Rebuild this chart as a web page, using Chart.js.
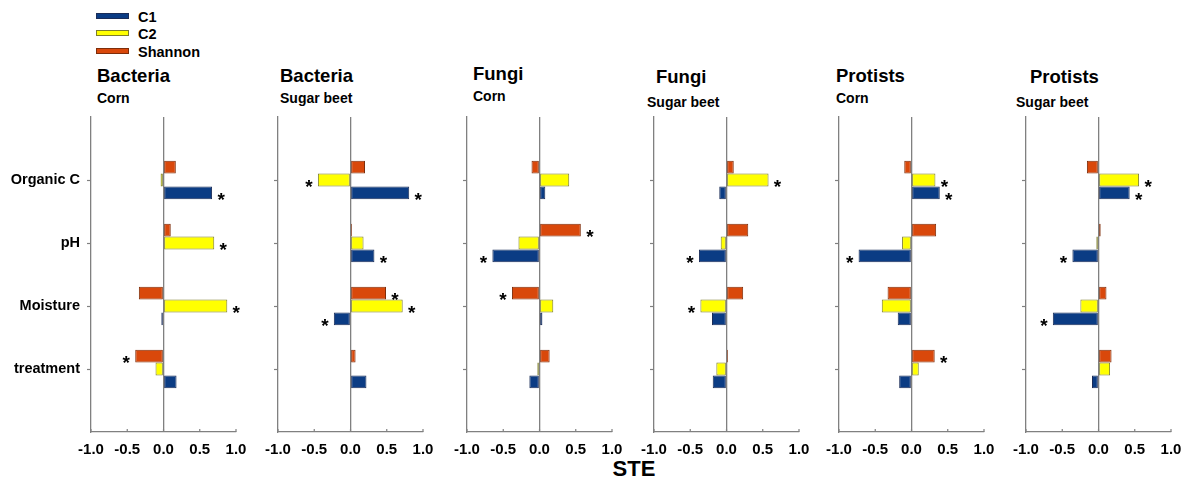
<!DOCTYPE html>
<html lang="en">
<head>
<meta charset="UTF-8">
<title>STE</title>
<style>
  body { margin: 0; background: #fff; }
  #page { position: relative; width: 1184px; height: 482px; overflow: hidden;
          font-family: "Liberation Sans", Arial, sans-serif; font-weight: bold; color: #000; }
  .txt { position: absolute; white-space: nowrap; line-height: 1; }
  .key { position: absolute; left: 96px; width: 31px; height: 4px; }
  canvas { position: absolute; }
</style>
<script src="https://cdn.jsdelivr.net/npm/chart.js"></script>
</head>
<body>
<div id="page"></div>

<script>
  // categories and tick labels
  const categories = ['Organic C', 'pH', 'Moisture', 'treatment'];
  const groups = ['Bacteria', 'Bacteria', 'Fungi', 'Fungi', 'Protists', 'Protists'];
  const crops = ['Corn', 'Sugar beet', 'Corn', 'Sugar beet', 'Corn', 'Sugar beet'];
  const seriesNames = ['C1', 'C2', 'Shannon'];
  const xTicks = [-1.0, -0.5, 0.0, 0.5, 1.0];
  const axisTitle = 'STE';

  // values per panel (Organic C, pH, Moisture, treatment)
  const c1 = [
    [0.67, -0.01, -0.03, 0.18],
    [0.81, 0.33, -0.23, 0.22],
    [0.08, -0.65, 0.04, -0.14],
    [-0.10, -0.38, -0.20, -0.19],
    [0.39, -0.73, -0.19, -0.17],
    [0.43, -0.36, -0.63, -0.09]
  ];
  const c2 = [
    [-0.04, 0.70, 0.88, -0.11],
    [-0.45, 0.18, 0.72, 0.01],
    [0.41, -0.29, 0.19, -0.03],
    [0.58, -0.08, -0.36, -0.14],
    [0.33, -0.13, -0.41, 0.10],
    [0.56, -0.03, -0.25, 0.16]
  ];
  const shannon = [
    [0.17, 0.10, -0.34, -0.39],
    [0.20, 0.02, 0.49, 0.07],
    [-0.11, 0.57, -0.38, 0.14],
    [0.10, 0.30, 0.23, 0.02],
    [-0.10, 0.34, -0.33, 0.32],
    [-0.16, 0.03, 0.11, 0.18]
  ];

  // significance marks (*)
  const c1Star = [
    [1, 0, 0, 0], [1, 1, 1, 0], [0, 1, 0, 0], [0, 1, 0, 0], [1, 1, 0, 0], [1, 1, 1, 0]
  ];
  const c2Star = [
    [0, 1, 1, 0], [1, 0, 1, 0], [0, 0, 0, 0], [1, 0, 1, 0], [1, 0, 0, 0], [1, 0, 0, 0]
  ];
  const shannonStar = [
    [0, 0, 0, 1], [0, 0, 1, 0], [0, 1, 1, 0], [0, 0, 0, 0], [0, 0, 0, 1], [0, 0, 0, 0]
  ];

  // look
  const fill = { C1: '#0b3c84', C2: '#ffff00', Shannon: '#d9480b' };
  const edge = { C1: '#1b2d58', C2: '#7d7d2c', Shannon: '#7e2d0a' };
  const gray = '#808080';
  const clear = 'rgba(0,0,0,0)';
  const fontFam = '"Liberation Sans", Arial, sans-serif';

  // layout: left edge of each panel's plot area, title baselines
  const axisLeft = [91, 277.5, 467, 653.5, 839, 1026];
  const titlePos = [[97, 83], [280, 83], [473, 81], [656, 84], [836, 83], [1030, 84]];
  const cropPos = [[97, 103], [280, 103], [473, 101], [647, 107], [836, 103], [1016, 107]];

  const page = document.getElementById('page');

  function addText(str, x, baseline, size, extra) {
    const d = document.createElement('div');
    d.className = 'txt';
    d.textContent = str;
    d.style.fontSize = size + 'px';
    d.style.left = x + 'px';
    d.style.top = (baseline - 0.85 * size) + 'px';
    if (extra) Object.assign(d.style, extra);
    page.appendChild(d);
    return d;
  }

  // legend
  const keyY = [16, 33, 51];
  seriesNames.forEach(function (name, k) {
    const line = document.createElement('div');
    line.className = 'key';
    line.style.top = (keyY[k] - 3) + 'px';
    line.style.background = fill[name];
    line.style.border = '1px solid ' + edge[name];
    page.appendChild(line);
    addText(name, 138, keyY[k] + 6, 14.5);
  });

  // titles
  for (let i = 0; i < 6; i++) {
    addText(groups[i], titlePos[i][0], titlePos[i][1], 18.5);
    addText(crops[i], cropPos[i][0], cropPos[i][1], 14);
  }
  addText(axisTitle, 0, 477, 22, { width: '1268px', textAlign: 'center' });

  const starPlugin = {
    id: 'stars',
    afterDatasetsDraw(chart) {
      const ctx = chart.ctx;
      ctx.save();
      ctx.fillStyle = '#000';
      ctx.font = 'bold 19px ' + fontFam;
      ctx.textAlign = 'center';
      ctx.textBaseline = 'alphabetic';
      chart.data.datasets.forEach(function (ds, d) {
        chart.getDatasetMeta(d).data.forEach(function (bar, k) {
          if (!ds.stars[k]) return;
          const dir = ds.data[k] < 0 ? -1 : 1;
          ctx.fillText('*', bar.x + dir * 9, bar.y + 13);
        });
      });
      ctx.restore();
    }
  };

  // small inward ticks on the bottom axis
  const innerTicks = {
    id: 'innerTicks',
    afterDraw(chart) {
      const ctx = chart.ctx, x = chart.scales.x, b = chart.chartArea.bottom;
      ctx.save();
      ctx.strokeStyle = gray;
      ctx.lineWidth = 1.2;
      xTicks.forEach(function (v) {
        const px = x.getPixelForValue(v);
        ctx.beginPath();
        ctx.moveTo(px, b);
        ctx.lineTo(px, b - 3);
        ctx.stroke();
      });
      ctx.restore();
    }
  };

  const pad = a => [null].concat(a, [null]);

  function makeSet(name, values, stars) {
    return {
      label: name,
      data: pad(values),
      stars: pad(stars),
      backgroundColor: fill[name],
      borderColor: edge[name],
      borderWidth: 1,
      borderSkipped: false,
      categoryPercentage: 0.61,
      barPercentage: 1.0
    };
  }

  function makePanel(i) {
    const yW = i === 0 ? 91 : 24;
    const canvas = document.createElement('canvas');
    canvas.width = yW + 145 + 20;
    canvas.height = 362;
    canvas.style.left = (axisLeft[i] - yW) + 'px';
    canvas.style.top = '100px';
    page.appendChild(canvas);

    const labels = [''].concat(categories, ['']);

    new Chart(canvas, {
      type: 'bar',
      data: {
        labels: labels,
        datasets: [
          makeSet('Shannon', shannon[i], shannonStar[i]),
          makeSet('C2', c2[i], c2Star[i]),
          makeSet('C1', c1[i], c1Star[i])
        ]
      },
      options: {
        indexAxis: 'y',
        responsive: false,
        animation: false,
        devicePixelRatio: 1,
        layout: { padding: { top: 17, right: 20, bottom: 0, left: 0 } },
        plugins: { legend: { display: false }, tooltip: { enabled: false } },
        scales: {
          x: {
            type: 'linear',
            min: -1,
            max: 1,
            afterBuildTicks: function (s) { s.ticks = xTicks.map(v => ({ value: v })); },
            afterFit: function (s) { s.height = 30; },
            grid: {
              drawTicks: false,
              lineWidth: 1.3,
              color: c => (c.tick && c.tick.value === 0) ? gray : clear
            },
            border: { color: gray, width: 1.3 },
            ticks: {
              autoSkip: false,
              maxRotation: 0,
              padding: 9,
              color: '#000',
              font: { family: fontFam, size: 15, weight: 'bold' },
              callback: v => v.toFixed(1)
            }
          },
          y: {
            offset: false,
            afterFit: function (s) { s.width = yW; },
            grid: {
              offset: false,
              drawOnChartArea: false,
              tickLength: 4,
              tickWidth: 1.2,
              tickColor: c => (c.index === 0 || c.index === labels.length - 1) ? clear : gray
            },
            border: { color: gray, width: 1.3 },
            ticks: {
              autoSkip: false,
              padding: 7,
              color: '#000',
              font: { family: fontFam, size: 14.5, weight: 'bold' },
              callback: function (v, idx) { return i === 0 ? labels[idx] : ''; }
            }
          }
        }
      },
      plugins: [starPlugin, innerTicks]
    });
  }

  for (let i = 0; i < 6; i++) makePanel(i);
</script>
</body>
</html>
